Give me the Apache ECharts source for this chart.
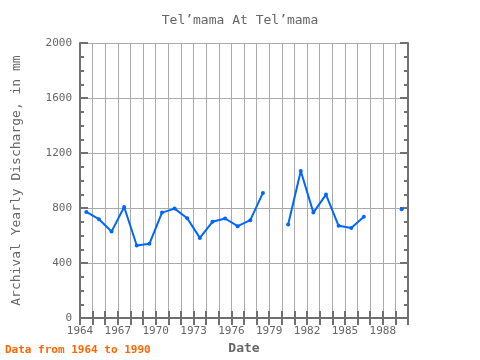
<!DOCTYPE html>
<html>
<head>
<meta charset="utf-8">
<script src="https://cdn.jsdelivr.net/npm/echarts@6/dist/echarts.min.js"></script>
<style>
  html, body { margin: 0; padding: 0; background: #fff; }
  #main { width: 480px; height: 360px; }
</style>
</head>
<body>
<div id="main"></div>
<script>
// yearly values (null = no data that year)
const years = [1964, 1965, 1966, 1967, 1968, 1969, 1970, 1971, 1972, 1973, 1974, 1975, 1976,
               1977, 1978, 1979, 1980, 1981, 1982, 1983, 1984, 1985, 1986, 1987, 1988, 1989];
const discharge = [772, 719, 629, 808, 528, 540, 767, 796, 726, 583, 700, 724, 668,
                   712, 910, null, 681, 1070, 767, 898, 671, 655, 736, null, null, 791];
const xTicks = [1964, 1967, 1970, 1973, 1976, 1979, 1982, 1985, 1988];

const font = 'DejaVu Sans Mono';
const grey = '#666';
const axisCol = '#707070';

// points sit in the middle of each year
const seriesData = years.map((y, i) => [y + 0.5, discharge[i]]);

const myChart = echarts.init(document.getElementById('main'));

const xBase = {
  type: 'value', min: 1964, max: 1990, interval: 1,
  axisLine: { lineStyle: { color: axisCol, width: 2 } },
  axisTick: { inside: true, length: 7, lineStyle: { color: axisCol, width: 2 } },
  splitLine: { show: false }
};
const yBase = {
  type: 'value', min: 0, max: 2000, interval: 400,
  axisLine: { show: true, lineStyle: { color: axisCol, width: 2 } },
  axisTick: { inside: true, length: 8, lineStyle: { color: axisCol, width: 2 } },
  minorTick: { show: true, splitNumber: 4, length: 4, lineStyle: { color: axisCol, width: 2 } },
  splitLine: { show: false }
};

myChart.setOption({
  animation: false,
  title: {
    text: 'Tel’mama At Tel’mama',
    left: 'center', top: 9,
    textStyle: { fontFamily: font, fontSize: 13, fontWeight: 'normal', color: grey }
  },
  graphic: [{
    type: 'text', left: 5, top: 345,
    style: { text: 'Data from 1964 to 1990', fill: '#ff6600', font: 'bold 11px "DejaVu Sans Mono"' }
  }],
  grid: { left: 80, right: 72, top: 43, bottom: 38 },
  xAxis: [
    Object.assign({}, xBase, {
      position: 'bottom',
      name: 'Date', nameLocation: 'middle', nameGap: 20,
      nameTextStyle: { fontFamily: font, fontSize: 13, fontWeight: 'bold', color: grey },
      axisLabel: {
        fontFamily: font, fontSize: 11, color: grey, margin: 8,
        formatter: v => xTicks.includes(v) ? String(v) : ''
      },
      splitLine: { show: true, lineStyle: { color: '#aaa', width: 1 } }
    }),
    Object.assign({}, xBase, { position: 'top', axisLabel: { show: false } })
  ],
  yAxis: [
    Object.assign({}, yBase, {
      position: 'left',
      name: 'Archival Yearly Discharge, in mm', nameLocation: 'middle', nameGap: 57,
      nameTextStyle: { fontFamily: font, fontSize: 13, color: grey },
      axisLabel: { fontFamily: font, fontSize: 11, color: grey, margin: 8, formatter: v => String(v) },
      splitLine: { show: true, lineStyle: { color: '#aaa', width: 1 } }
    }),
    Object.assign({}, yBase, { position: 'right', axisLabel: { show: false } })
  ],
  series: [{
    type: 'line',
    data: seriesData,
    connectNulls: false,
    symbol: 'circle', symbolSize: 4, showSymbol: true,
    itemStyle: { color: '#0066ff' },
    lineStyle: { color: '#0066ff', width: 2 }
  }]
});
</script>
</body>
</html>
